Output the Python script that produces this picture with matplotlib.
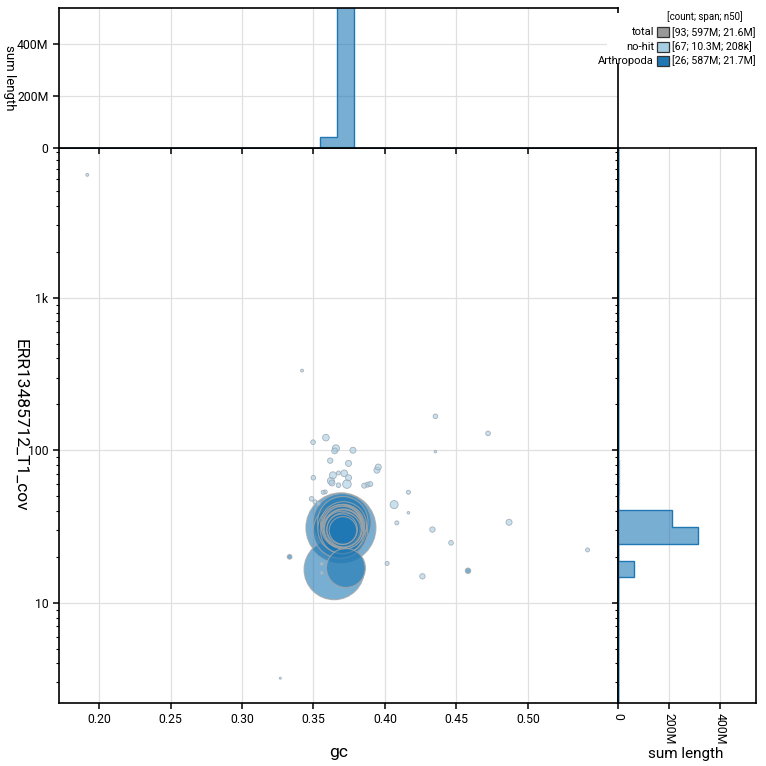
import numpy as np
import matplotlib
matplotlib.use("Agg")
import matplotlib.pyplot as plt
from matplotlib.ticker import FuncFormatter, LogLocator, NullFormatter
from matplotlib.patches import Rectangle

plt.rcParams["font.family"] = ["Roboto", "DejaVu Sans"]

# Arthropoda contigs: gc, coverage, length (Mb)
arth_gc = [0.3692, 0.3645, 0.3727, 0.3700, 0.3688, 0.3705, 0.3700, 0.3710, 0.3702,
           0.3708, 0.3712, 0.3698, 0.3706, 0.3702, 0.3714, 0.3696, 0.3709, 0.3704,
           0.3700, 0.3711, 0.3703, 0.3707, 0.3699, 0.3713, 0.3701, 0.3706,
           0.3333, 0.4581]
arth_cov = [31.0, 16.5, 16.9, 33.5, 29.5, 34.0, 30.5, 32.5, 29.0,
            32.0, 30.8, 30.9, 32.2, 31.9, 30.2, 32.4, 31.0, 31.8,
            30.6, 30.7, 32.1, 30.9, 30.4, 30.0, 30.3, 29.8,
            20.0, 16.2]
arth_len = [58, 43, 18, 40, 35, 30, 28, 25, 22,
            21.7, 20, 19, 20, 19.5, 18, 19, 17, 18.5,
            17, 16.5, 17.5, 16, 15, 14, 11, 9,
            0.25, 0.34]

# no-hit contigs
nohit_gc = [0.1918, 0.3420, 0.3268, 0.3497, 0.3587, 0.3657, 0.3648, 0.3776, 0.4353,
            0.4721, 0.4353, 0.3617, 0.3745, 0.3953, 0.3944, 0.3499, 0.3636, 0.3715,
            0.3745, 0.3675, 0.3622, 0.3629, 0.3675, 0.3734, 0.3855, 0.3878, 0.3897,
            0.3568, 0.3582, 0.3487, 0.3511, 0.3534, 0.4164, 0.4064, 0.4164, 0.4083,
            0.4332, 0.4462, 0.4868, 0.5417, 0.4015, 0.4262, 0.3557, 0.3557]
nohit_cov = [6400, 333, 3.2, 113, 121, 103, 99, 100, 167,
             129, 98, 85.5, 82, 77.6, 74, 66, 68.5, 70.6,
             66, 71, 63, 61, 59, 60, 58.6, 59.5, 60,
             53, 53.3, 48, 45.9, 44.8, 53, 44, 38.9, 33.4,
             30.2, 24.7, 33.7, 22.2, 18.1, 14.9, 18.0, 15.7]
nohit_len = [0.1, 0.1, 0.05, 0.25, 0.52, 0.58, 0.4, 0.43, 0.25,
             0.25, 0.08, 0.34, 0.43, 0.43, 0.43, 0.25, 0.58, 0.52,
             0.43, 0.19, 0.58, 0.43, 0.25, 0.87, 0.3, 0.3, 0.3,
             0.19, 0.19, 0.25, 0.19, 0.19, 0.19, 0.76, 0.08, 0.19,
             0.34, 0.25, 0.43, 0.19, 0.19, 0.34, 0.15, 0.15]

legend_names = ["total", "no-hit", "Arthropoda"]
legend_stats = ["[93; 597M; 21.6M]", "[67; 10.3M; 208k]", "[26; 587M; 21.7M]"]
legend_colors = ["#999999", "#a6cee3", "#1f78b4"]

C_ARTH = "#1f78b4"
C_NOHIT = "#a6cee3"
SIZE_K = 43.8  # pt^2 per Mb

gc_edges = 0.3548 + 0.0119 * np.arange(-16, 18)
cov_edges = 10 ** (1.166 + 0.1098 * np.arange(-10, 30))

fig = plt.figure(figsize=(7.66, 7.66), dpi=100)
W = H = 766.0
ax = fig.add_axes([59 / W, 63 / H, 559 / W, 555 / H])
axt = fig.add_axes([59 / W, 618 / H, 559 / W, 140 / H], sharex=ax)
axr = fig.add_axes([618 / W, 63 / H, 137.7 / W, 555 / H], sharey=ax)

for a in (ax, axt, axr):
    a.set_axisbelow(True)
    a.grid(True, color="#e0e0e0", lw=0.9)
    for s in a.spines.values():
        s.set_linewidth(1.2)
    a.tick_params(direction="out", length=4, width=1.1, labelsize=8.8, color="black")
    a.tick_params(which="minor", direction="out", length=2.5, width=0.8)

# main scatter
order = np.argsort(arth_len)[::-1]
ax.scatter(np.array(arth_gc)[order], np.array(arth_cov)[order],
           s=np.array(arth_len)[order] * SIZE_K,
           facecolor=matplotlib.colors.to_rgba(C_ARTH, 0.6),
           edgecolor=(0.65, 0.65, 0.65, 0.8), linewidth=0.8, zorder=3)
order = np.argsort(nohit_len)[::-1]
ax.scatter(np.array(nohit_gc)[order], np.array(nohit_cov)[order],
           s=np.array(nohit_len)[order] * SIZE_K,
           facecolor=matplotlib.colors.to_rgba(C_NOHIT, 0.6),
           edgecolor=(0.62, 0.66, 0.7, 0.9), linewidth=0.6, zorder=4)

ax.set_yscale("log")
ax.set_xlim(0.172, 0.563)
ax.set_ylim(2.2, 9600)
ax.set_xticks([0.20, 0.25, 0.30, 0.35, 0.40, 0.45, 0.50])
ax.xaxis.set_major_formatter(FuncFormatter(lambda v, p: f"{v:.2f}"))
ax.yaxis.set_major_locator(LogLocator(base=10))
ax.yaxis.set_minor_locator(LogLocator(base=10, subs=np.arange(2, 10)))
ax.yaxis.set_minor_formatter(NullFormatter())
ax.yaxis.set_major_formatter(FuncFormatter(
    lambda v, p: f"{v / 1000:.0f}k" if v >= 1000 else f"{v:.0f}"))
ax.set_xlabel("gc", fontsize=12.5)
ax.xaxis.set_label_coords(0.5, -0.075)
ax.set_ylabel("ERR13485712_T1_cov", fontsize=12.5, rotation=-90, va="center")
ax.yaxis.set_label_coords(-0.07, 0.5)

sum_fmt = FuncFormatter(lambda v, p: "0" if v == 0 else f"{v / 1e6:.0f}M")

# top histogram
axt.hist(nohit_gc, bins=gc_edges, weights=np.array(nohit_len) * 1e6,
         histtype="stepfilled", facecolor=matplotlib.colors.to_rgba(C_NOHIT, 0.6),
         edgecolor=C_NOHIT, lw=1)
axt.hist(arth_gc, bins=gc_edges, weights=np.array(arth_len) * 1e6,
         histtype="stepfilled", facecolor=matplotlib.colors.to_rgba(C_ARTH, 0.6),
         edgecolor=C_ARTH, lw=1)
axt.set_ylim(0, 541e6)
axt.set_yticks([0, 2e8, 4e8])
axt.yaxis.set_major_formatter(sum_fmt)
axt.tick_params(axis="x", labelbottom=False)
axt.set_ylabel("sum length", fontsize=9.5, rotation=-90, va="center")
axt.yaxis.set_label_coords(-0.089, 0.5)

# right histogram
axr.hist(nohit_cov, bins=cov_edges, weights=np.array(nohit_len) * 1e6,
         orientation="horizontal", histtype="stepfilled",
         facecolor=matplotlib.colors.to_rgba(C_NOHIT, 0.6), edgecolor=C_NOHIT, lw=1)
axr.hist(arth_cov, bins=cov_edges, weights=np.array(arth_len) * 1e6,
         orientation="horizontal", histtype="stepfilled",
         facecolor=matplotlib.colors.to_rgba(C_ARTH, 0.6), edgecolor=C_ARTH, lw=1)
axr.set_xlim(0, 541e6)
axr.set_xticks([0, 2e8, 4e8])
axr.xaxis.set_major_formatter(sum_fmt)
axr.tick_params(axis="y", labelleft=False)
for lab in axr.get_xticklabels():
    lab.set_rotation(-90)
axr.set_xlabel("sum length", fontsize=11)
axr.xaxis.set_label_coords(0.49, -0.08)

# legend
fig.patches.append(Rectangle((607 / W, 1 - 63 / H), 159 / W, 50 / H,
                             transform=fig.transFigure, facecolor="white",
                             edgecolor="none", zorder=5))
fig.text(743 / W, 1 - 16.7 / H, "[count; span; n50]", ha="right", va="center",
         fontsize=7, zorder=6)
rows = [32.3, 46.5, 61.0]
for name, stat, col, yy in zip(legend_names, legend_stats, legend_colors, rows):
    yf = 1 - yy / H
    fig.text(654 / W, yf, name, ha="right", va="center", fontsize=8, zorder=6)
    fig.patches.append(Rectangle((657.3 / W, yf - 5 / H), 11.4 / W, 10 / H,
                                 transform=fig.transFigure, facecolor=col,
                                 edgecolor="#333333", lw=0.9, zorder=6))
    fig.text(672.3 / W, yf, stat, ha="left", va="center", fontsize=7.6, zorder=6)

fig.savefig("out.png", dpi=100)
